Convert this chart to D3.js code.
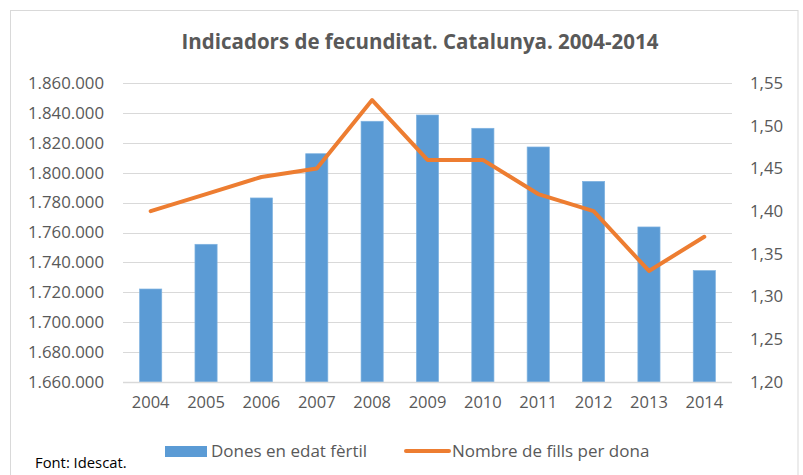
<!DOCTYPE html>
<html><head><meta charset="utf-8">
<script src="https://cdn.jsdelivr.net/npm/d3@7"></script>
<style>body{margin:0;background:#fff}svg{display:block}text{font-family:"Open Sans",sans-serif}</style>
</head><body><svg id="c" width="803" height="475"></svg>
<script>
const years = ["2004","2005","2006","2007","2008","2009","2010","2011","2012","2013","2014"];
const dones = [1722200,1752100,1783100,1812700,1834400,1838600,1829700,1817200,1794200,1763700,1734500];
const fills = [1.40,1.42,1.44,1.45,1.53,1.46,1.46,1.42,1.40,1.33,1.37];
const leftTicks = [1660000,1680000,1700000,1720000,1740000,1760000,1780000,1800000,1820000,1840000,1860000];
const rightTicks = [1.20,1.25,1.30,1.35,1.40,1.45,1.50,1.55];
const title = "Indicadors de fecunditat. Catalunya. 2004-2014";
const seriesNames = ["Dones en edat fèrtil","Nombre de fills per dona"];
const source = "Font: Idescat.";

const svg = d3.select("#c");
const grey = "#595959";
const L=123, R=732, T=83, B=382;

svg.append("rect").attr("x",10.5).attr("y",10.5).attr("width",787.5).attr("height",480)
  .attr("fill","#fff").attr("stroke","#d9d9d9").attr("stroke-width",1);

const x = d3.scaleBand().domain(years).range([L,R]).paddingInner(0.6).paddingOuter(0.3);
const y = d3.scaleLinear().domain([1660000,1860000]).range([B,T]);
const y2 = d3.scaleLinear().domain([1.20,1.55]).range([B,T]);

const fmtL = v => d3.format(",")(v).replace(/,/g,".");
const fmtR = v => d3.format(".2f")(v).replace(".",",");

// gridlines
svg.append("g").selectAll("line").data(leftTicks.slice(1)).join("line")
  .attr("x1",L).attr("x2",R).attr("y1",d=>Math.round(y(d))+0.5).attr("y2",d=>Math.round(y(d))+0.5)
  .attr("stroke","#d9d9d9").attr("stroke-width",1);

// left axis
const gl = svg.append("g").attr("transform",`translate(${L-19},0)`)
  .call(d3.axisLeft(y).tickValues(leftTicks).tickFormat(fmtL).tickSize(0).tickPadding(0));
gl.select(".domain").remove();
gl.selectAll("text").attr("fill",grey).style("font-size","16.8px").style("font-family","Open Sans");

// right axis
const gr = svg.append("g").attr("transform",`translate(${R+18},0)`)
  .call(d3.axisRight(y2).tickValues(rightTicks).tickFormat(fmtR).tickSize(0).tickPadding(0));
gr.select(".domain").remove();
gr.selectAll("text").attr("fill",grey).style("font-size","16.8px").style("font-family","Open Sans");

// bars
svg.append("g").selectAll("rect").data(years).join("rect")
  .attr("x",d=>x(d)).attr("width",x.bandwidth())
  .attr("y",(d,i)=>y(dones[i])).attr("height",(d,i)=>B-y(dones[i]))
  .attr("fill","#5b9bd5").attr("stroke","#7fb2e0").attr("stroke-width",0.7);

// baseline
svg.append("line").attr("x1",L).attr("x2",R).attr("y1",B+0.5).attr("y2",B+0.5)
  .attr("stroke","#d9d9d9").attr("stroke-width",1.5);

// bottom axis
const gb = svg.append("g").attr("transform",`translate(0,${B})`)
  .call(d3.axisBottom(x).tickSize(0).tickPadding(14));
gb.select(".domain").remove();
gb.selectAll("text").attr("fill",grey).style("font-size","16.5px").style("font-family","Open Sans");

// line
const line = d3.line().x((d,i)=>x(years[i])+x.bandwidth()/2).y(d=>y2(d));
svg.append("path").datum(fills).attr("d",line).attr("fill","none")
  .attr("stroke","#ed7d31").attr("stroke-width",4).attr("stroke-linejoin","round").attr("stroke-linecap","round");

// title
svg.append("text").attr("x",420).attr("y",49).attr("text-anchor","middle")
  .attr("fill",grey).style("font-size","20.5px").style("font-weight","bold").text(title);

// legend
const lg = svg.append("g");
lg.append("rect").attr("x",165).attr("y",446).attr("width",42).attr("height",11).attr("fill","#5b9bd5");
lg.append("text").attr("x",211).attr("y",457).attr("fill",grey).style("font-size","17px").text(seriesNames[0]);
lg.append("line").attr("x1",406).attr("x2",449).attr("y1",451).attr("y2",451)
  .attr("stroke","#ed7d31").attr("stroke-width",4).attr("stroke-linecap","round");
lg.append("text").attr("x",452).attr("y",457).attr("fill",grey).style("font-size","17px").text(seriesNames[1]);

svg.append("text").attr("x",35).attr("y",468).attr("fill","#000").style("font-size","14.8px").text(source);
</script></body></html>
